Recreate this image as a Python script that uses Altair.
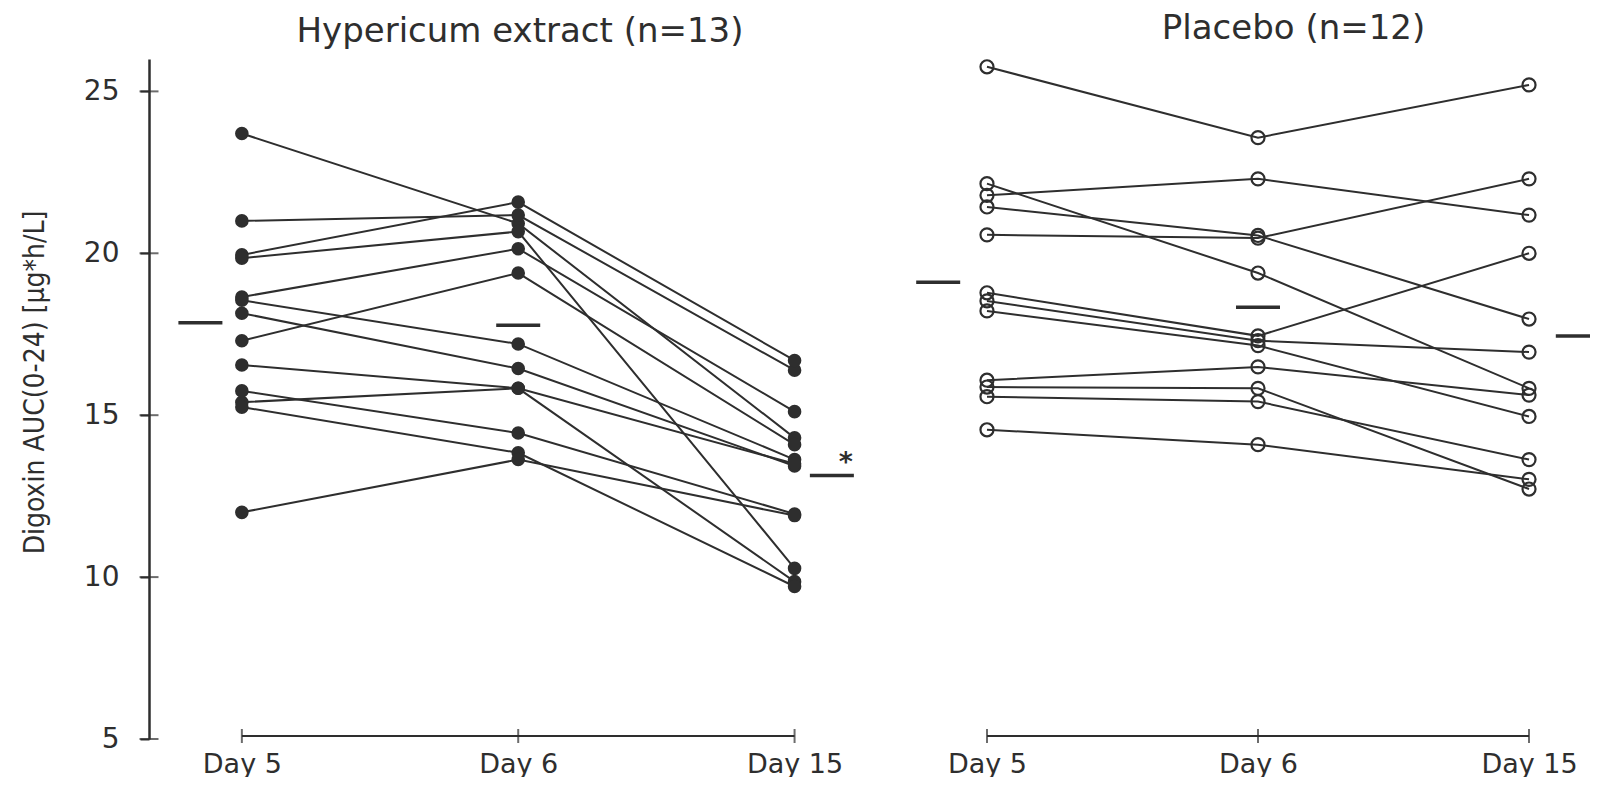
import json
import pandas as pd
import altair as alt

# ---------------- data ----------------
days = ["Day 5", "Day 6", "Day 15"]

hyp_title = "Hypericum extract (n=13)"
pla_title = "Placebo (n=12)"
y_title = "Digoxin AUC(0-24) [µg*h/L]"
y_ticks = [5, 10, 15, 20, 25]

# Hypericum extract, one entry per subject
hyp_day5 = [23.7, 21.0, 19.95, 19.85, 18.65, 18.55, 18.15, 17.3, 16.55, 15.4, 15.75, 15.25, 12.0]
hyp_day6 = [20.92, 21.18, 21.58, 20.67, 20.14, 17.2, 16.44, 19.39, 15.83, 15.83, 14.45, 13.84, 13.63]
hyp_day15 = [14.3, 16.39, 16.69, 10.27, 15.11, 13.63, 13.43, 14.09, 13.5, 9.86, 11.95, 9.71, 11.9]
hyp_sig = ["", "", "*"]

# Placebo, one entry per subject
pla_day5 = [25.76, 22.15, 21.79, 21.43, 20.57, 18.78, 18.53, 18.22, 16.08, 15.87, 15.57, 14.55]
pla_day6 = [23.57, 19.39, 22.3, 20.55, 20.47, 17.45, 17.3, 17.15, 16.49, 15.83, 15.42, 14.09]
pla_day15 = [25.2, 15.83, 21.18, 17.97, 22.3, 20.0, 16.95, 14.96, 15.62, 12.72, 13.63, 13.02]
pla_sig = ["", "", ""]

# ---------------- style ----------------
INK = "#2e2e2e"
FONT = "DejaVu Sans"
NARROW = "Liberation Sans Narrow, DejaVu Sans Condensed, Arial Narrow, sans-serif"
H = 680
Y_DOMAIN = [5, 26]
mean_offset_hyp = [-0.15, 0.0, 0.135]
mean_offset_pla = [-0.18, 0.0, 0.18]

label_expr = json.dumps(days) + "[datum.value]"


def long_frame(series, sig, offsets):
    rows = []
    for s, vals in enumerate(zip(*series)):
        for d, v in enumerate(vals):
            rows.append({"subject": s, "day": days[d], "pos": d,
                         "mpos": d + offsets[d], "value": v, "sig": sig[d]})
    return pd.DataFrame(rows)


hyp_df = long_frame([hyp_day5, hyp_day6, hyp_day15], hyp_sig, mean_offset_hyp)
pla_df = long_frame([pla_day5, pla_day6, pla_day15], pla_sig, mean_offset_pla)
ytick_df = pd.DataFrame({"v": y_ticks})


def panel(df, filled, xdomain, width, title, show_y, title_dx):
    xscale = alt.Scale(domain=xdomain, nice=False, zero=False)
    xaxis = alt.Axis(values=[0, 1, 2], labelExpr=label_expr, domain=False, ticks=False,
                     grid=False, title=None, labelFont=FONT, labelFontSize=27,
                     labelColor=INK, labelPadding=12, labelFlush=False)
    yscale = alt.Scale(domain=Y_DOMAIN, nice=False, zero=False)
    if show_y:
        yaxis = alt.Axis(values=y_ticks, title=y_title, titleFont=NARROW, titleFontSize=28,
                         titleFontWeight="normal", titleColor=INK, titlePadding=34,
                         titleY=323,
                         labelFont=FONT, labelFontSize=28, labelColor=INK, labelPadding=21,
                         tickSize=9, tickWidth=2, tickColor=INK, domainColor=INK,
                         domainWidth=2.5, grid=False)
    else:
        yaxis = None

    def X(field):
        return alt.X(field, scale=xscale, axis=xaxis, title=None)

    def Y(field):
        return alt.Y(field, scale=yscale, axis=yaxis, title=y_title if show_y else None)

    base = alt.Chart(df)
    lines = base.mark_line(color=INK, strokeWidth=2).encode(
        x=X("pos:Q"), y=Y("value:Q"), detail="subject:N", order="pos:Q")
    if filled:
        pts = base.mark_point(filled=True, shape="circle", size=185, color=INK, opacity=1)
    else:
        pts = base.mark_point(filled=False, shape="circle", size=170, color=INK,
                              strokeWidth=2.2, opacity=1)
    pts = pts.encode(x=X("pos:Q"), y=Y("value:Q"))
    means = base.mark_tick(orient="horizontal", size=44, thickness=3.5, color=INK,
                           clip=True).encode(x=X("mpos:Q"), y=Y("mean(value):Q"))
    baseline = base.mark_rule(color=INK, strokeWidth=2).encode(
        x=X("min(pos):Q"), x2="max(pos):Q", y=alt.value(H - 3))
    dayticks = base.transform_aggregate(n="count()", groupby=["pos"]).mark_tick(
        orient="vertical", size=14, thickness=2, color=INK).encode(
        x=X("pos:Q"), y=alt.value(H - 3))
    sig = base.transform_filter("datum.sig != ''").mark_text(
        font=FONT, fontSize=27, fontWeight="bold", color=INK, dx=14, dy=-12).encode(
        x=X("mpos:Q"), y=Y("mean(value):Q"), text="sig:N")

    layers = [lines, pts, means, baseline, dayticks, sig]
    if show_y:
        # ticks crossing the y axis line, as in the reference
        cross = alt.Chart(ytick_df).mark_tick(orient="horizontal", size=19, thickness=2,
                                               color=INK).encode(x=alt.value(0), y=Y("v:Q"))
        layers.append(cross)

    return alt.layer(*layers).properties(
        width=width, height=H,
        title=alt.TitleParams(title, font=FONT, fontSize=34, fontWeight="normal",
                              color=INK, offset=10, dx=title_dx, anchor="middle"))


left = panel(hyp_df, True, [-0.336, 2.32], 734, hyp_title, True, 4)
right = panel(pla_df, False, [-0.332, 2.225], 693, pla_title, False, 50)

chart = alt.hconcat(left, right, spacing=14).properties(
    padding={"left": 13, "top": 3, "right": 0, "bottom": 0}
).configure_view(strokeWidth=0).resolve_scale(x="independent", y="independent")

chart.save("out.html", embed_options={"renderer": "svg", "actions": False})
